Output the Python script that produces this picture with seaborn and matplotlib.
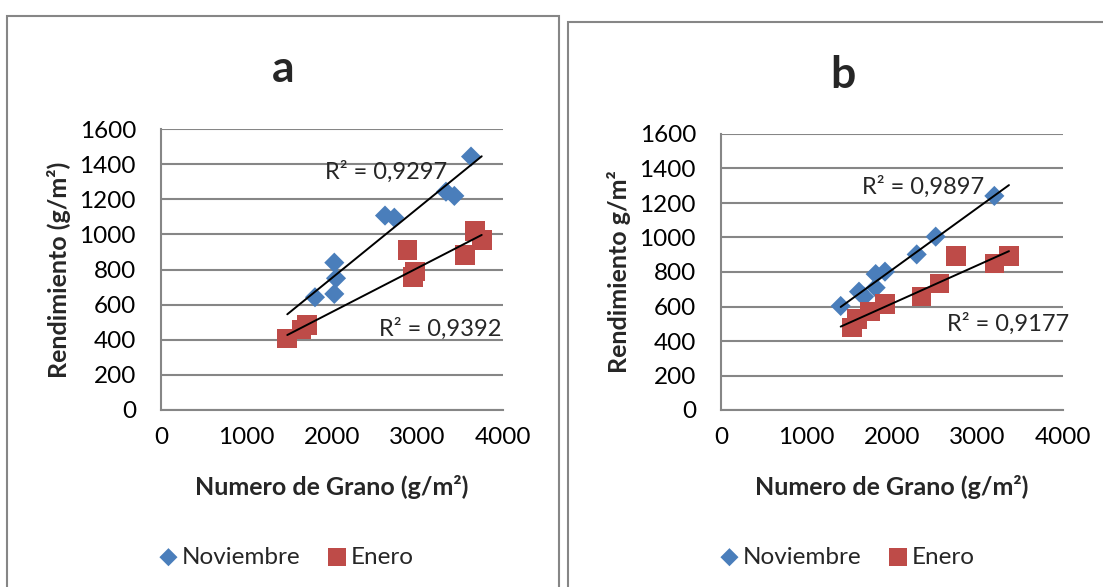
import matplotlib
matplotlib.use("Agg")
import matplotlib.pyplot as plt
from matplotlib.patches import Rectangle
import numpy as np
import pandas as pd
import seaborn as sns

# panel a
a_nov_x = [3626, 3333, 3431, 2620, 2729, 2027, 2047, 2027, 1801]
a_nov_y = [1443, 1243, 1219, 1107, 1095, 839, 750, 661, 642]
a_ene_x = [1477, 1645, 1704, 2885, 2971, 2951, 3673, 3751, 3556]
a_ene_y = [408, 459, 484, 911, 788, 759, 1019, 968, 883]
a_r2 = ["R² = 0,9297", "R² = 0,9392"]

# panel b
b_nov_x = [1400, 1614, 1673, 1809, 1809, 1918, 2289, 2511, 3197]
b_nov_y = [603, 686, 657, 709, 788, 802, 902, 1005, 1241]
b_ene_x = [1529, 1587, 1743, 1918, 2347, 2554, 2749, 3197, 3368]
b_ene_y = [479, 526, 570, 614, 657, 734, 893, 850, 893]
b_r2 = ["R² = 0,9897", "R² = 0,9177"]

series_names = ["Noviembre", "Enero"]
colors = {"Noviembre": "#4A7EBB", "Enero": "#BE4B48"}
markers = {"Noviembre": "D", "Enero": "s"}
sizes = {"Noviembre": 105, "Enero": 200}

sns.set_style("white")
plt.rcParams["font.family"] = ["Lato", "DejaVu Sans"]

grey = "#868686"
fig = plt.figure(figsize=(11.03, 5.87), dpi=100)

# chart borders
fig.add_artist(Rectangle((7 / 1103, -0.1), 552 / 1103, 1.1 - 16 / 587,
                         transform=fig.transFigure, fill=False, edgecolor=grey, lw=1.5))
fig.add_artist(Rectangle((568 / 1103, -0.1), 0.6, 1.1 - 22 / 587,
                         transform=fig.transFigure, fill=False, edgecolor=grey, lw=1.5))


def draw_panel(rect, title, title_xy, ylabel, nov_x, nov_y, ene_x, ene_y, r2, r2_pos, legend_x):
    ax = fig.add_axes(rect)
    df = pd.concat([
        pd.DataFrame({"x": nov_x, "y": nov_y, "mes": "Noviembre"}),
        pd.DataFrame({"x": ene_x, "y": ene_y, "mes": "Enero"}),
    ])
    all_x = df["x"].to_numpy()
    xs = np.array([all_x.min(), all_x.max()])
    for name in series_names:
        sub = df[df["mes"] == name]
        sns.scatterplot(data=sub, x="x", y="y", marker=markers[name], color=colors[name],
                        s=sizes[name], edgecolor="none", label=name, ax=ax, zorder=3)
    for name in series_names:
        sub = df[df["mes"] == name]
        k, b = np.polyfit(sub["x"], sub["y"], 1)
        ax.plot(xs, k * xs + b, color="black", lw=1.4, zorder=4)
    for txt, pos in zip(r2, r2_pos):
        ax.text(pos[0], pos[1], txt, transform=ax.transAxes, ha="center", va="center",
                fontsize=17, zorder=5)

    ax.set_xlim(0, 4000)
    ax.set_ylim(0, 1600)
    ax.set_xticks(range(0, 4001, 1000))
    ax.set_yticks(range(0, 1601, 200))
    ax.grid(axis="y", color=grey, lw=1.5)
    ax.grid(axis="x", visible=False)
    for s in ["top", "right"]:
        ax.spines[s].set_visible(False)
    for s in ["left", "bottom"]:
        ax.spines[s].set_color(grey)
        ax.spines[s].set_linewidth(1.5)
    ax.tick_params(axis="both", length=0, labelsize=17.5, colors="black")
    ax.tick_params(axis="y", pad=18)
    ax.tick_params(axis="x", pad=12)
    ax.set_xlabel("Numero de Grano (g/m²)", fontsize=18, fontweight="bold", labelpad=20)
    ax.set_ylabel(ylabel, fontsize=18, fontweight="bold", labelpad=6)
    fig.text(title_xy[0] / 1103, 1 - title_xy[1] / 587, title, fontsize=32,
             fontweight="bold", ha="center", va="baseline")
    ax.legend_.remove()
    handles, labels = ax.get_legend_handles_labels()
    fig.legend(handles, labels, loc="center", bbox_to_anchor=(legend_x, 0.051), ncol=2,
               frameon=False, fontsize=17.5, handlelength=0.8, handletextpad=0.15,
               columnspacing=1.1, markerscale=0.9)
    return ax


draw_panel([161 / 1103, 1 - 410 / 587, 342 / 1103, 281 / 587], "a", (283, 82), "Rendimiento (g/m²)",
           a_nov_x, a_nov_y, a_ene_x, a_ene_y, a_r2, [(0.658, 0.847), (0.816, 0.288)], 286 / 1103)
draw_panel([721 / 1103, 1 - 410 / 587, 342 / 1103, 276 / 587], "b", (843, 88), "Rendimiento g/m²",
           b_nov_x, b_nov_y, b_ene_x, b_ene_y, b_r2, [(0.591, 0.808), (0.839, 0.312)], 847 / 1103)

fig.savefig("out.png", dpi=100)
